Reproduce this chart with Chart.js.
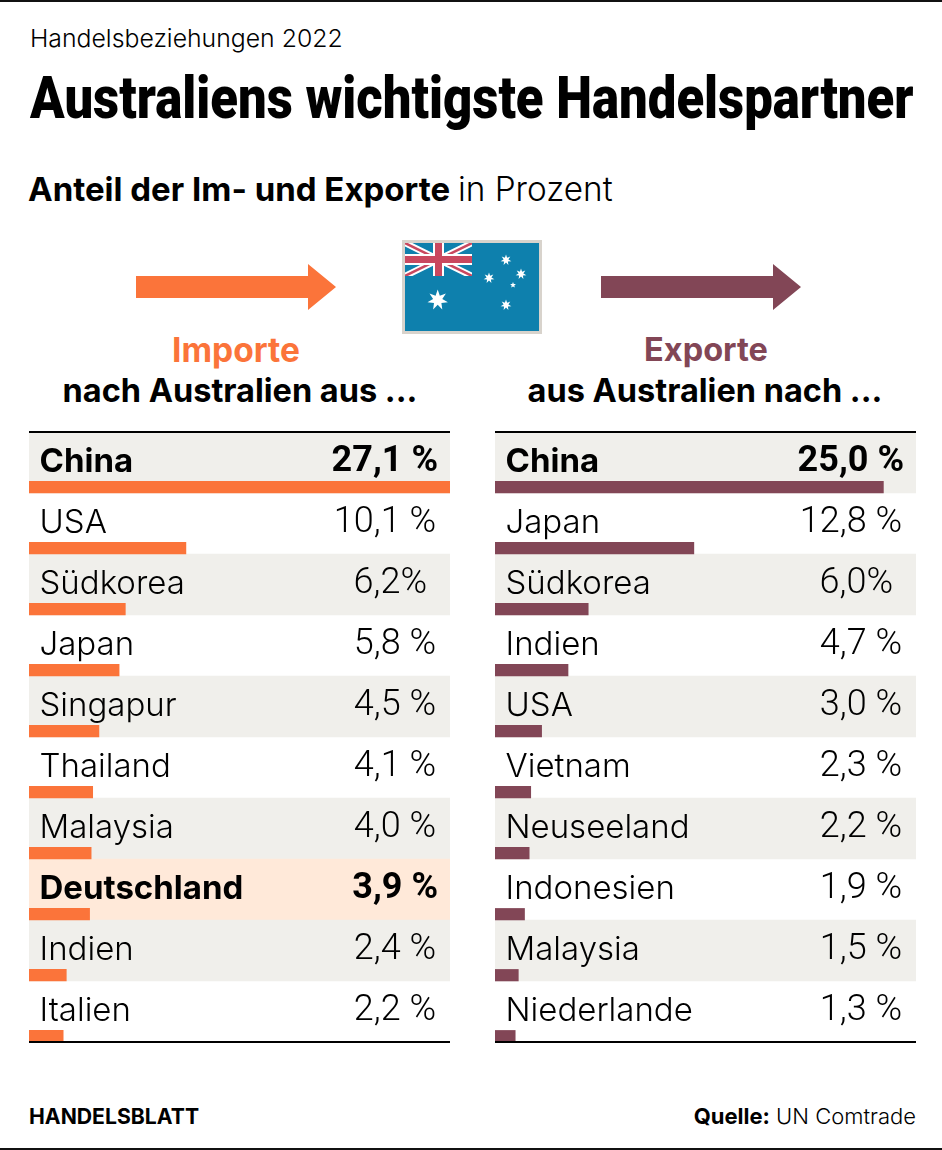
<!DOCTYPE html>
<html lang="de">
<head>
<meta charset="utf-8">
<title>Australiens wichtigste Handelspartner</title>
<script src="https://cdn.jsdelivr.net/npm/chart.js@4"></script>
<style>
  html, body { margin: 0; background: #fff; }
  #page { position: relative; width: 942px; height: 1150px; overflow: hidden; font-family: "Inter", sans-serif; color: #000; }
  .t { position: absolute; white-space: nowrap; }
  .rule { position: absolute; left: 0; width: 942px; height: 2px; background: #111; }
  canvas { position: absolute; }
  svg { position: absolute; left: 0; top: 0; }
</style>
</head>
<body>
<div id="page">
  <div class="rule" style="top:0"></div>
  <div class="rule" style="top:1148px"></div>
  <div class="t" style="left:30px;top:23px;font-size:24.8px;line-height:30px;font-weight:300">Handelsbeziehungen 2022</div>
  <div class="t" style="left:30px;top:60px;font:900 60px/76px Roboto;transform-origin:0 0;transform:scaleX(.848)">Australiens wichtigste Handelspartner</div>
  <div class="t" style="left:28px;top:170px;font-size:33px;line-height:38px;font-weight:700">Anteil der Im- und Exporte <span style="font-weight:300;font-size:33.3px">in Prozent</span></div>

  <svg id="deco" width="942" height="1150"></svg>

  <div class="t" style="left:36px;width:400px;top:330px;text-align:center;font-size:33.5px;line-height:40px;font-weight:700;color:#fb743a">Importe</div>
  <div class="t" style="left:40px;width:400px;top:371px;text-align:center;font-size:32.5px;line-height:40px;font-weight:700">nach Australien aus ...</div>
  <div class="t" style="left:506px;width:400px;top:330px;text-align:center;font-size:32.5px;line-height:40px;font-weight:700;color:#824656">Exporte</div>
  <div class="t" style="left:505px;width:400px;top:371px;text-align:center;font-size:32.5px;line-height:40px;font-weight:700">aus Australien nach ...</div>

  <canvas id="imports" style="left:29px;top:431px" width="421" height="613"></canvas>
  <canvas id="exports" style="left:495px;top:431px" width="421" height="613"></canvas>

  <div class="t" style="left:29px;top:1102px;font-size:21.2px;line-height:28px;font-weight:700">HANDELSBLATT</div>
  <div class="t" style="right:26px;top:1102px;font-size:22px;line-height:28px;font-weight:300"><b style="font-weight:700">Quelle:</b> UN Comtrade</div>
</div>

<script>
const importCountries = ['China', 'USA', 'Südkorea', 'Japan', 'Singapur', 'Thailand', 'Malaysia', 'Deutschland', 'Indien', 'Italien'];
const importValues = [27.1, 10.1, 6.2, 5.8, 4.5, 4.1, 4.0, 3.9, 2.4, 2.2];
const importLabels = ['27,1 %', '10,1 %', '6,2%', '5,8 %', '4,5 %', '4,1 %', '4,0 %', '3,9 %', '2,4 %', '2,2 %'];
const importBold = ['China', 'Deutschland'];

const exportCountries = ['China', 'Japan', 'Südkorea', 'Indien', 'USA', 'Vietnam', 'Neuseeland', 'Indonesien', 'Malaysia', 'Niederlande'];
const exportValues = [25.0, 12.8, 6.0, 4.7, 3.0, 2.3, 2.2, 1.9, 1.5, 1.3];
const exportLabels = ['25,0 %', '12,8 %', '6,0%', '4,7 %', '3,0 %', '2,3 %', '2,2 %', '1,9 %', '1,5 %', '1,3 %'];
const exportBold = ['China'];

const axisMax = 27.1;
const orange = '#fb743a', maroon = '#824656', band = '#f0efeb', peach = '#ffe9d9';

// row texts and the black rules above and below the table
const tableText = {
  id: 'tableText',
  afterDatasetsDraw(chart, args, opts) {
    const { ctx, chartArea, scales } = chart;
    ctx.save();
    ctx.fillStyle = '#000';
    ctx.textBaseline = 'middle';
    opts.countries.forEach((name, i) => {
      const y = scales.y.getPixelForValue(i + 0.5) - 0.5;
      const bold = opts.bold.includes(name);
      ctx.font = (bold ? '700 ' : '300 ') + '33px Inter';
      ctx.textAlign = 'left';
      ctx.fillText(name, 10.5, y);
      const label = opts.labels[i];
      ctx.font = (bold ? '700 ' : '300 ') + '36px Roboto';
      ctx.textAlign = 'right';
      // the labels without a space sit further in, as in the original
      ctx.fillText(label, chartArea.right - (bold ? 12 : 14) - (label.includes(' ') ? 0 : 9), y);
    });
    ctx.fillRect(chartArea.left, chartArea.top - 1, chartArea.width, 2);
    ctx.fillRect(chartArea.left, chartArea.bottom - 1, chartArea.width, 2);
    ctx.restore();
  }
};

function makeTable(id, countries, values, labels, bold, color) {
  const rows = countries.map((c, i) => i);
  new Chart(document.getElementById(id), {
    type: 'bar',
    plugins: [tableText],
    data: {
      datasets: [
        {
          label: 'Anteil',
          data: rows.map(i => ({ x: values[i], y: i + 1 - 5.8 / 61 })),
          backgroundColor: color,
          barThickness: 11.5,
          order: 1
        },
        {
          label: 'Zeile',
          data: rows.map(i => ({ x: axisMax, y: i + 0.5 })),
          backgroundColor: rows.map(i => countries[i] === 'Deutschland' ? peach : (i % 2 === 0 ? band : 'rgba(0,0,0,0)')),
          barThickness: 61,
          order: 2
        }
      ]
    },
    options: {
      indexAxis: 'y',
      responsive: false,
      animation: false,
      layout: { padding: { top: 1, bottom: 2 } },
      datasets: { bar: { grouped: false, borderWidth: 0 } },
      scales: {
        x: { display: false, min: 0, max: axisMax },
        y: { display: false, type: 'linear', offset: false, reverse: true, min: 0, max: countries.length }
      },
      plugins: {
        legend: { display: false },
        tooltip: { enabled: false },
        tableText: { countries, labels, bold }
      }
    }
  });
}

makeTable('imports', importCountries, importValues, importLabels, importBold, orange);
makeTable('exports', exportCountries, exportValues, exportLabels, exportBold, maroon);

// arrows and flag
function star(cx, cy, r, n) {
  const pts = [];
  for (let i = 0; i < n * 2; i++) {
    const a = Math.PI * i / n - Math.PI / 2, q = i % 2 ? r * 0.45 : r;
    pts.push((cx + q * Math.cos(a)).toFixed(1) + ',' + (cy + q * Math.sin(a)).toFixed(1));
  }
  return `<polygon points="${pts.join(' ')}" fill="#fff"/>`;
}
function arrow(x, color) {
  return `<polygon fill="${color}" points="${x},276 ${x + 172},276 ${x + 172},264 ${x + 200},287 ${x + 172},310 ${x + 172},298 ${x},298"/>`;
}
document.getElementById('deco').innerHTML =
  arrow(136, orange) + arrow(601, maroon) +
  `<rect x="403.5" y="241.5" width="137" height="91" fill="#0e80ad" stroke="#d8d3cc" stroke-width="3"/>` +
  `<svg x="405" y="243" width="67" height="33" viewBox="0 0 67 33">
     <path d="M0 0L67 33M67 0L0 33" stroke="#fff" stroke-width="6.5"/>
     <path d="M0 0L67 33M67 0L0 33" stroke="#c9485f" stroke-width="2.5"/>
     <path d="M33.5 0V33M0 16.5H67" stroke="#fff" stroke-width="11"/>
     <path d="M33.5 0V33M0 16.5H67" stroke="#c9485f" stroke-width="7"/>
   </svg>` +
  star(437.7, 300, 10.5, 7) + star(506, 260, 5.5, 7) + star(521, 274, 5.5, 7) +
  star(489, 278, 5.5, 7) + star(513, 285, 3, 5) + star(506, 305, 5.5, 7);
</script>
</body>
</html>
